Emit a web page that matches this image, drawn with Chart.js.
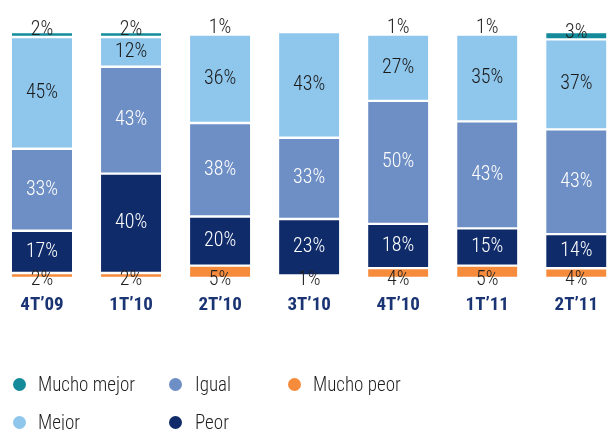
<!DOCTYPE html>
<html><head><meta charset="utf-8">
<script src="https://cdn.jsdelivr.net/npm/chart.js@4"></script>
<style>
html,body{margin:0;padding:0;background:#fff;}
#wrap{position:relative;width:614px;height:430px;overflow:hidden;}
canvas{position:absolute;left:0;top:0;}
.lg{position:absolute;display:flex;align-items:center;height:30px;font-family:"Liberation Sans Narrow","Roboto Condensed",Roboto,sans-serif;font-size:20px;font-weight:300;color:#1e1e1e;white-space:nowrap;}
.dot{width:13px;height:13px;border-radius:50%;display:inline-block;margin-right:12.5px;flex:none;}
.txt{display:inline-block;transform:scaleX(0.95);transform-origin:left center;}
</style>
</head><body>
<div id="wrap"><canvas id="c" width="614" height="430"></canvas><div id="legend"></div></div>
<script>
const categories = ["4T\u201909","1T\u201910","2T\u201910","3T\u201910","4T\u201910","1T\u201911","2T\u201911"];
const muchoPeor  = [2, 2, 5, 1, 4, 5, 4];
const peor       = [17, 40, 20, 23, 18, 15, 14];
const igual      = [33, 43, 38, 33, 50, 43, 43];
const mejor      = [45, 12, 36, 43, 27, 35, 37];
const muchoMejor = [2, 2, 1, 0, 1, 1, 3];

const seriesNames = ["Mucho peor","Peor","Igual","Mejor","Mucho mejor"];
const seriesColors = ["#f68b3c","#0f2b6a","#6e8fc6","#8fc6ec","#138b9a"];
const labelColors = ["#222","#ffffff","#ffffff","#1a1a1a","#222"];
const raw = [muchoPeor, peor, igual, mejor, muchoMejor];

const totals = categories.map((_, j) => raw.reduce((s, arr) => s + arr[j], 0));
const FONT = '"Liberation Sans Narrow","Roboto Condensed",Roboto,sans-serif';

const datasets = raw.map((arr, i) => ({
  label: seriesNames[i],
  data: arr.map((v, j) => v ? v / totals[j] * 100 : null),
  backgroundColor: (c) => (arr[c.dataIndex] <= 1 ? 'rgba(0,0,0,0)' : seriesColors[i]),
  borderColor: (c) => (arr[c.dataIndex] <= 1 ? 'rgba(0,0,0,0)' : '#ffffff'),
  borderWidth: {top: 1.5, bottom: 1.5, left: 0, right: 0},
  borderSkipped: false,
  barThickness: 60,
  clip: false
}));

const labelPlugin = {
  id: 'vals',
  afterDatasetsDraw(chart) {
    const ctx = chart.ctx;
    ctx.save();
    ctx.font = '300 20px ' + FONT;
    ctx.textAlign = 'center';
    ctx.textBaseline = 'middle';
    raw.forEach((arr, d) => {
      const meta = chart.getDatasetMeta(d);
      meta.data.forEach((el, j) => {
        const v = arr[j];
        if (!v) return;
        const p = el.getProps(['x','y','base'], true);
        let y;
        if (d === 0) y = p.base + 1.5;
        else if (d === 4) y = p.base - 6.5;
        else y = (p.y + p.base) / 2;
        ctx.fillStyle = labelColors[d];
        ctx.fillText(v + '%', p.x, y);
      });
    });
    ctx.restore();
  }
};

new Chart(document.getElementById('c'), {
  type: 'bar',
  data: {labels: categories, datasets: datasets},
  options: {
    responsive: false,
    animation: false,
    layout: {padding: {top: 32, left: 42, right: 36, bottom: 0}},
    plugins: {legend: {display: false}, tooltip: {enabled: false}},
    scales: {
      x: {
        stacked: true, offset: false,
        grid: {display: false, drawTicks: false},
        border: {display: false},
        ticks: {font: {family: FONT, size: 19, weight: 'bold'}, color: '#1b3474', padding: 16, maxRotation: 0, autoSkip: false},
        afterFit(s) { s.height = 430 - 278; }
      },
      y: {stacked: true, display: false, min: 0, max: 100}
    }
  },
  plugins: [labelPlugin]
});

const legendItems = [
  {name: "Mucho mejor", color: seriesColors[4], cx: 19, cy: 384},
  {name: "Mejor", color: seriesColors[3], cx: 19, cy: 422},
  {name: "Igual", color: seriesColors[2], cx: 175.5, cy: 384},
  {name: "Peor", color: seriesColors[1], cx: 175.5, cy: 422},
  {name: "Mucho peor", color: seriesColors[0], cx: 294, cy: 384}
];
const lg = document.getElementById('legend');
legendItems.forEach(it => {
  const d = document.createElement('div');
  d.className = 'lg';
  d.style.left = (it.cx - 6.5) + 'px';
  d.style.top = (it.cy - 15) + 'px';
  const dot = document.createElement('span');
  dot.className = 'dot';
  dot.style.background = it.color;
  const t = document.createElement('span');
  t.className = 'txt';
  t.textContent = it.name;
  d.appendChild(dot); d.appendChild(t);
  lg.appendChild(d);
});
</script>
</body></html>
